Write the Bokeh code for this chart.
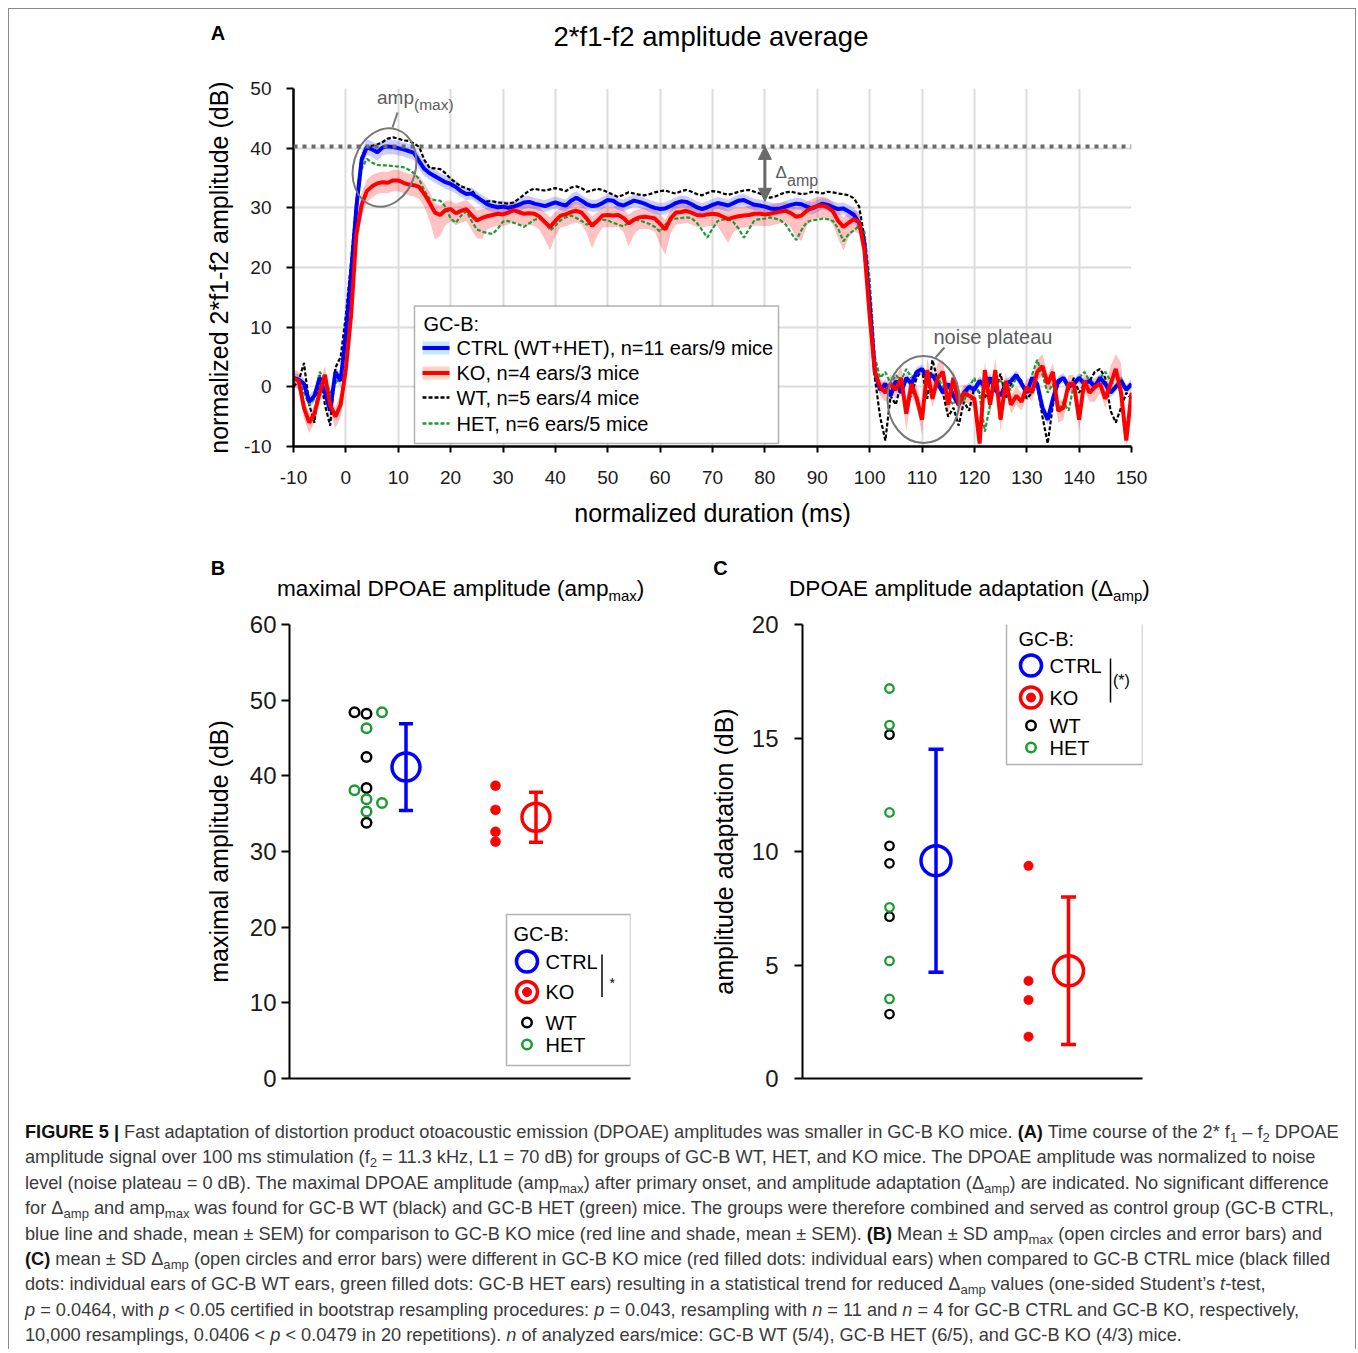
import numpy as np
from bokeh.plotting import figure
from bokeh.models import (Range1d, Label, Arrow, NormalHead, Whisker, TeeHead,
                          ColumnDataSource, FixedTicker, Div, Span, BoxAnnotation)
from bokeh.layouts import column, row
from bokeh.embed import file_html
from bokeh.resources import INLINE

FONT = "Liberation Sans"

# ---------------- Panel A data (normalized 2*f1-f2 amplitude, dB) ----------------
t_ms = np.arange(-10, 151)  # 1 ms sampling grid

ctrl_mean = [
    1.5, 1.2, 0.5, -2.5, -1.5, 1.5, -1.0, -4.0, 2.5, 1.0,
    9.0, 19.0, 30.0, 38.0, 40.2, 39.8, 39.3, 40.1, 40.3, 40.2,
    40.0, 39.8, 39.5, 39.2, 37.8, 36.5, 35.8, 35.3, 34.8, 34.3,
    34.0, 33.5, 32.8, 32.3, 32.4, 31.8, 31.2, 30.6, 30.3, 30.1,
    30.2, 30.0, 30.2, 30.5, 30.9, 31.0, 30.7, 30.5, 30.3, 30.6,
    30.9, 30.6, 30.4, 31.2, 31.7, 31.2, 30.6, 30.3, 30.4, 30.8,
    31.3, 31.2, 30.6, 30.4, 30.8, 31.2, 31.0, 30.7, 30.3, 30.0,
    29.8, 29.9, 30.3, 30.8, 31.1, 31.0, 30.6, 30.1, 29.8, 30.1,
    30.5, 30.8, 30.6, 30.4, 30.8, 31.2, 31.3, 30.9, 30.5, 30.4,
    30.2, 29.9, 29.8, 29.9, 30.2, 30.5, 30.7, 30.6, 30.2, 29.9,
    30.3, 30.7, 30.5, 30.1, 29.8, 29.9, 29.4, 28.8, 27.5, 24.0,
    14.0, 2.5, -0.5, 0.5, -1.5, 1.0, -1.0, 1.5, 0.5, 2.5,
    3.0, 1.5, 2.0, 0.5, -1.0, 0.5, -1.5, -3.0, -1.0, 0.0,
    -0.5, 1.0, 0.0, 1.5, -0.5, -1.5, 0.5, 1.0, 2.0, 0.5,
    -1.0, 1.5, 0.5, -3.5, -5.5, -2.0, 1.0, 1.5, 0.0, 0.5,
    1.5, 0.5, 1.0, 0.0, 1.5, 0.5, -1.0, 0.0, 1.0, -0.5, 0.5,
]
ctrl_sem = [
    0.8, 0.9, 1.0, 1.2, 1.0, 0.9, 1.1, 1.3, 1.0, 1.2,
    2.0, 2.0, 1.8, 1.5, 1.3, 1.3, 1.4, 1.3, 1.3, 1.2,
    1.2, 1.2, 1.2, 1.2, 1.3, 1.2, 1.1, 1.1, 1.1, 1.1,
    1.1, 1.1, 1.0, 1.0, 1.0, 1.0, 1.0, 1.0, 1.0, 1.0,
    1.0, 1.0, 1.0, 1.1, 1.1, 1.0, 1.0, 1.0, 1.0, 1.0,
    1.0, 1.0, 1.0, 1.1, 1.1, 1.0, 1.0, 1.0, 1.0, 1.0,
    1.0, 1.0, 1.0, 1.0, 1.0, 1.0, 1.0, 1.0, 1.0, 1.0,
    1.0, 1.0, 1.0, 1.0, 1.0, 1.0, 1.0, 1.0, 1.0, 1.0,
    1.0, 1.0, 1.0, 1.0, 1.0, 1.0, 1.0, 1.0, 1.0, 1.0,
    1.0, 1.0, 1.0, 1.0, 1.0, 1.0, 1.0, 1.0, 1.0, 1.0,
    1.0, 1.0, 1.0, 1.0, 1.0, 1.0, 1.1, 1.2, 1.4, 1.8,
    2.0, 1.2, 0.8, 0.8, 0.8, 0.8, 0.8, 0.8, 0.8, 0.8,
    0.8, 0.8, 0.8, 0.8, 0.8, 0.8, 0.8, 0.8, 0.8, 0.8,
    0.8, 0.8, 0.8, 0.8, 0.8, 0.8, 0.8, 0.8, 0.8, 0.8,
    0.8, 0.8, 0.8, 0.9, 1.0, 0.8, 0.8, 0.8, 0.8, 0.8,
    0.8, 0.8, 0.8, 0.8, 0.8, 0.8, 0.8, 0.8, 0.8, 0.8, 0.8,
]
ko_mean = [
    1.5, 1.0, -3.5, -6.0, -4.5, -1.0, 2.0, -3.0, -5.0, -3.0,
    3.0, 12.0, 25.5, 30.5, 32.8, 33.6, 34.1, 34.3, 34.2, 34.6,
    34.6, 34.2, 33.9, 33.8, 33.5, 32.3, 30.8, 29.2, 28.8, 29.6,
    29.8, 29.1, 29.5, 29.8, 28.8, 27.9, 28.3, 28.6, 28.8, 29.0,
    28.9, 29.2, 29.6, 29.3, 29.0, 29.1, 29.0, 28.5, 27.6, 26.8,
    27.8, 28.7, 28.9, 29.3, 29.5, 29.2, 28.2, 27.0, 27.8, 28.7,
    28.8, 28.7, 28.8, 28.3, 27.4, 28.0, 28.4, 28.5, 28.4, 28.2,
    27.3, 26.4, 28.2, 29.2, 29.3, 29.5, 29.2, 28.8, 28.7, 28.9,
    29.0, 28.9, 28.5, 28.1, 28.4, 28.6, 28.7, 28.8, 29.0, 29.0,
    28.9, 29.0, 29.2, 29.4, 29.5, 29.1, 28.5, 28.7, 29.5, 30.0,
    30.3, 30.4, 30.1, 29.4, 27.8, 26.8, 27.5, 28.1, 27.6, 23.0,
    12.0, 2.5, 0.0, -1.0, 0.5, -0.5, 1.5, -4.5, 0.5, -2.0,
    -5.5, 2.8, -2.0, 1.5, 2.5, -3.0, 1.5, -3.0, -1.0, -1.5,
    -2.0, -9.5, 2.8, -3.0, 2.8, -5.5, 1.0, -3.0, -1.5, -2.5,
    0.0, -1.0, 2.5, 3.5, 0.5, 2.5, -4.0, -3.5, 0.5, 0.5,
    -5.5, 1.0, -1.0, 0.0, 0.5, -2.0, 0.5, 3.0, -1.0, -9.0, -1.0,
]
ko_sem_up = [
    1.5, 1.5, 1.5, 1.5, 1.5, 1.5, 1.5, 1.5, 1.5, 2.0,
    2.5, 2.5, 2.2, 2.0, 1.9, 1.9, 1.8, 1.8, 1.8, 1.8,
    1.8, 1.8, 1.8, 1.8, 1.8, 1.8, 1.8, 1.6, 1.6, 1.6,
    1.4, 1.6, 1.5, 1.5, 1.7, 1.6, 1.5, 1.4, 1.5, 1.6,
    1.5, 1.5, 1.4, 1.5, 1.6, 1.5, 1.5, 1.5, 1.6, 1.6,
    1.5, 1.4, 1.5, 1.5, 1.5, 1.6, 1.5, 1.5, 1.5, 1.4,
    1.5, 1.5, 1.6, 1.5, 1.5, 1.5, 1.4, 1.5, 1.5, 1.5,
    1.6, 1.6, 1.5, 1.4, 1.5, 1.5, 1.5, 1.5, 1.5, 1.5,
    1.5, 1.5, 1.6, 1.6, 1.5, 1.5, 1.5, 1.5, 1.4, 1.5,
    1.5, 1.5, 1.5, 1.4, 1.5, 1.5, 1.5, 1.6, 1.5, 1.5,
    1.5, 1.5, 1.5, 1.5, 1.6, 1.6, 1.6, 1.5, 1.8, 2.0,
    2.0, 2.0, 1.5, 1.5, 1.5, 2.0, 2.0, 2.5, 2.0, 2.0,
    2.5, 2.0, 3.0, 2.5, 2.0, 2.0, 1.5, 1.5, 1.5, 1.5,
    1.5, 1.5, 1.5, 1.5, 2.0, 2.0, 1.5, 1.5, 1.5, 1.5,
    1.5, 2.0, 2.0, 2.0, 1.5, 1.5, 1.5, 1.5, 1.5, 1.5,
    1.5, 2.0, 2.0, 1.5, 1.5, 2.0, 3.0, 2.5, 5.0, 2.0, 2.0,
]
ko_sem_down = [
    1.5, 1.5, 1.8, 1.8, 1.5, 1.5, 1.5, 1.5, 2.0, 2.0,
    2.5, 2.5, 2.2, 2.0, 1.9, 1.9, 1.8, 1.8, 1.8, 1.8,
    1.8, 1.8, 1.8, 1.9, 2.0, 2.2, 3.0, 4.5, 3.5, 2.5,
    2.0, 2.0, 2.0, 2.0, 2.5, 3.0, 3.5, 2.2, 2.0, 2.0,
    2.0, 2.0, 2.0, 2.0, 2.0, 2.0, 2.0, 2.2, 3.0, 3.9,
    2.5, 2.0, 2.0, 2.0, 2.0, 2.0, 2.5, 3.8, 2.5, 2.0,
    2.0, 2.0, 2.0, 2.3, 3.9, 2.5, 2.0, 2.0, 2.0, 2.2,
    3.5, 4.3, 2.5, 2.0, 2.0, 2.0, 2.0, 2.0, 2.0, 2.0,
    2.0, 2.0, 3.0, 4.0, 2.5, 2.0, 2.0, 2.0, 2.0, 2.0,
    2.0, 2.0, 2.0, 2.0, 2.0, 2.5, 3.5, 4.2, 2.5, 2.0,
    2.0, 2.0, 2.0, 2.2, 3.0, 3.9, 2.5, 2.0, 2.0, 2.0,
    2.0, 1.5, 1.5, 1.5, 1.5, 1.5, 1.8, 3.0, 2.0, 1.5,
    2.5, 1.5, 1.5, 1.5, 1.5, 2.0, 1.5, 2.0, 1.5, 1.5,
    1.5, 1.0, 1.5, 2.0, 1.5, 2.0, 1.5, 1.5, 1.5, 1.5,
    1.5, 1.5, 1.5, 1.5, 1.5, 1.5, 2.0, 2.0, 1.5, 1.5,
    2.0, 1.5, 1.5, 2.5, 1.5, 1.5, 1.5, 1.5, 1.5, 1.0, 1.5,
]
wt_mean = [
    0.0, 1.0, 4.0, -3.0, -6.0, 2.0, -3.0, -6.5, 3.2, 5.0,
    12.0, 21.0, 31.0, 38.5, 40.3, 40.4, 40.6, 41.0, 41.6, 41.8,
    41.6, 41.3, 41.2, 40.8, 40.2, 38.0, 36.7, 36.6, 36.5, 35.8,
    34.9, 34.2, 33.6, 33.3, 32.9, 32.0, 31.2, 31.1, 31.1, 30.9,
    30.8, 30.7, 30.9, 31.5, 32.2, 32.9, 33.2, 33.0, 32.9, 33.1,
    33.3, 33.1, 32.8, 33.4, 33.6, 33.3, 32.7, 32.9, 33.2, 33.0,
    32.6, 32.2, 31.8, 32.2, 32.6, 32.4, 32.2, 32.1, 32.3, 32.6,
    32.8, 32.9, 32.6, 32.4, 32.8, 33.0, 32.7, 32.3, 32.1, 32.5,
    32.8, 32.7, 32.4, 32.2, 32.4, 32.7, 32.9, 33.0, 32.7, 32.4,
    32.0, 31.7, 31.9, 32.3, 32.6, 32.7, 32.5, 32.3, 32.4, 32.7,
    32.6, 32.4, 32.7, 32.6, 32.4, 32.3, 32.1, 31.6, 30.2, 25.0,
    14.0, 1.5, -5.0, -9.0, -1.5, -3.0, 0.5, -4.0, -1.0, 1.5,
    2.8, -2.0, 4.5, 1.0, -1.0, -5.0, -3.5, -6.5, -2.5, -4.0,
    0.0, -1.0, -2.0, 1.0, -0.5, 2.2, -2.0, 0.5, 2.0, 1.0,
    -2.0, -1.0, 0.5, -5.0, -9.5, -3.0, 0.5, 1.5, -0.5, 1.5,
    -1.0, 0.5, 1.0, 2.5, 3.0, 1.5, -4.0, -6.0, -3.5, -1.0, -2.0,
]
het_mean = [
    1.5, 1.0, -1.0, -3.0, -2.0, 2.5, 1.5, -1.0, 0.5, 2.0,
    8.0, 20.0, 30.0, 36.5, 38.2, 37.6, 37.2, 37.1, 37.1, 37.0,
    36.9, 36.8, 36.4, 35.8, 34.8, 32.8, 31.5, 31.3, 31.2, 30.2,
    28.2, 27.5, 28.7, 29.4, 27.8, 26.4, 26.0, 25.8, 25.6, 26.5,
    27.7, 27.8, 27.5, 27.2, 26.8, 27.4, 28.0, 28.2, 27.8, 26.2,
    27.0, 27.9, 28.4, 28.7, 28.3, 27.8, 27.2, 27.4, 27.8, 28.0,
    27.9, 27.5, 27.2, 26.9, 27.5, 28.0, 27.9, 27.6, 27.3, 26.8,
    26.0, 27.2, 28.0, 28.2, 28.3, 28.4, 28.3, 27.5, 26.3, 25.0,
    26.5, 27.8, 28.0, 28.1, 27.6, 26.5, 25.0, 26.5, 27.9, 28.1,
    28.2, 28.4, 28.2, 27.9, 27.2, 25.8, 24.6, 26.3, 27.6, 27.9,
    28.0, 28.2, 28.1, 27.8, 26.5, 24.4, 25.6, 26.2, 27.0, 26.0,
    18.0, 5.0, 1.5, 2.5, 0.5, 2.0, 1.0, 3.0, 1.5, 2.5,
    3.0, 0.5, -1.0, 1.5, 0.0, -2.0, -3.0, -1.0, -2.5, 0.0,
    1.5, -1.5, -7.5, -3.0, 0.5, 1.0, 0.0, -0.5, 1.5, 0.5,
    -1.0, 2.0, 4.5, 2.0, -1.0, 0.5, -4.0, -2.5, -4.0, 0.5,
    1.5, 2.5, 1.0, -0.5, 1.5, 2.5, 1.0, 0.0, 1.5, -0.5, 0.0,
]
amp_max_level = 40.3          # dotted line: amp(max) of CTRL
delta_amp_ms = 80             # where the delta_amp arrow is drawn
delta_amp_low = 31.1          # plateau level at the arrow

legend_a = ["CTRL (WT+HET), n=11 ears/9 mice", "KO, n=4 ears/3 mice",
            "WT, n=5 ears/4 mice", "HET, n=6 ears/5 mice"]
legend_bc = ["CTRL", "KO", "WT", "HET"]

# ---------------- Panel B data (amp max, dB) ----------------
b_wt = [48.4, 48.2, 42.5, 38.4, 33.8]
b_het = [48.4, 46.3, 38.1, 36.9, 35.3, 36.4]
b_ko = [38.7, 35.5, 32.6, 31.3]
# ---------------- Panel C data (delta amp, dB) ----------------
c_wt = [15.15, 10.25, 9.48, 7.13, 2.84]
c_het = [17.18, 15.57, 11.72, 7.54, 5.18, 3.51]
c_ko = [9.37, 4.30, 3.46, 1.84]

BLUE, RED, GREEN, GRAY = "#0000ff", "#ff0000", "#1e9a35", "#5c5c5c"

# ---------------- geometry (page px) ----------------
X0, Y0 = 9, 9                  # inner top-left corner of the bordered box
INNER_W = 1346
AL, AR, AT, AB = 293, 1131, 88, 446
A_TOP, A_BOT = 69, 540
BL, BR, BT, BB = 289, 630, 624, 1078
CL, CR, CT, CB = 802, 1142, 624, 1078
BC_TOP, CAP_TOP = 605, 1118


def A_x(px): return -10 + (px - AL) * 160.0 / (AR - AL)
def A_y(py): return -10 + (AB - py) * 60.0 / (AB - AT)
def B_x(px): return px - BL
def B_y(py): return (BB - py) * 60.0 / (BB - BT)
def C_x(px): return px - CL
def C_y(py): return (CB - py) * 20.0 / (CB - CT)


def lab(p, x, y, text, size, color="black", align="left", baseline="middle"):
    p.add_layout(Label(x=x, y=y, text=text, text_font=FONT,
                       text_font_size=f"{size}px", text_color=color,
                       text_align=align, text_baseline=baseline))


def style_axis(ax, size, standoff, tick_out, label=None, label_standoff=10):
    ax.axis_line_color = "black"
    ax.axis_line_width = 2
    ax.major_tick_line_color = "black"
    ax.major_tick_line_width = 2
    ax.major_tick_out = tick_out
    ax.major_tick_in = 0
    ax.minor_tick_line_color = None
    ax.major_label_text_font = FONT
    ax.major_label_text_font_size = f"{size}px"
    ax.major_label_text_color = "#1a1a1a"
    ax.major_label_standoff = standoff
    if label:
        ax.axis_label = label
        ax.axis_label_text_font = FONT
        ax.axis_label_text_font_size = "25px"
        ax.axis_label_text_font_style = "normal"
        ax.axis_label_text_color = "black"
        ax.axis_label_standoff = label_standoff


# ======================= headers (panel letters and titles) =======================
def abs_span(left, top, w, lh, size, html, bold=False, align="left"):
    return (f'<div style="position:absolute;left:{left}px;top:{top}px;width:{w}px;'
            f'line-height:{lh}px;font-size:{size}px;text-align:{align};white-space:nowrap;'
            f'font-weight:{"bold" if bold else "normal"};color:#000">{html}</div>')


def header(height, items):
    return Div(text=(f"<div style=\"position:relative;width:{INNER_W}px;height:{height}px;"
                     f"font-family:'Liberation Sans',Arial,sans-serif\">" + "".join(items) + "</div>"),
               width=INNER_W, height=height, margin=0)


hA = header(A_TOP - Y0, [
    abs_span(218 - X0 - 20, 33 - Y0 - 12, 40, 24, 20, "A", bold=True, align="center"),
    abs_span(711 - X0 - 300, 37 - Y0 - 16, 600, 32, 27.5, "2*f1-f2 amplitude average", align="center"),
])

SUBT = '<span style="font-size:15px;position:relative;top:5px">'
hBC = header(BC_TOP - A_BOT, [
    abs_span(218 - X0 - 20, 568 - A_BOT - 12, 40, 24, 20, "B", bold=True, align="center"),
    abs_span(720.5 - X0 - 20, 568 - A_BOT - 12, 40, 24, 20, "C", bold=True, align="center"),
    abs_span(277 - X0, 597 - A_BOT - 21, 420, 26, 22.6,
             "maximal DPOAE amplitude (amp" + SUBT + "max</span>)"),
    abs_span(789 - X0, 597 - A_BOT - 21, 420, 26, 22.6,
             "DPOAE amplitude adaptation (Δ" + SUBT + "amp</span>)"),
])

# ======================= Panel A =======================
pA = figure(frame_width=AR - AL, frame_height=AB - AT,
            x_range=Range1d(-10, 150), y_range=Range1d(-10, 50),
            min_border_left=AL - X0, min_border_right=X0 + INNER_W - AR,
            min_border_top=AT - A_TOP, min_border_bottom=A_BOT - AB,
            output_backend="svg", toolbar_location=None,
            outline_line_color=None, background_fill_color="white",
            border_fill_color="white")
xt = list(range(-10, 151, 10))
yt = list(range(-10, 51, 10))
pA.xaxis.ticker = FixedTicker(ticks=xt)
pA.yaxis.ticker = FixedTicker(ticks=yt)
pA.xgrid.ticker = FixedTicker(ticks=xt)
pA.ygrid.ticker = FixedTicker(ticks=yt)
for g in (pA.xgrid, pA.ygrid):
    g.grid_line_color = "#dcdcdc"
    g.grid_line_width = 2
style_axis(pA.yaxis[0], 19, 15, 7, "normalized 2*f1-f2 amplitude (dB)", 8)
style_axis(pA.xaxis[0], 19, 18, 6, "normalized duration (ms)", 12)
pA.xaxis.axis_line_width = 2.5
pA.yaxis.axis_line_width = 2.5
pA.xaxis.major_label_overrides = {-10: "-10"}
pA.yaxis.major_label_overrides = {-10: "-10"}

# legend box (under data)
pA.add_layout(BoxAnnotation(left=A_x(414), right=A_x(778), top=A_y(305.5),
                            bottom=A_y(443), fill_color="white", fill_alpha=1,
                            line_color="black", line_width=1.5, level="underlay"))

t = np.asarray(t_ms, dtype=float)
cm, cs = np.asarray(ctrl_mean), np.asarray(ctrl_sem)
km = np.asarray(ko_mean)
pA.varea(x=t, y1=km - np.asarray(ko_sem_down), y2=km + np.asarray(ko_sem_up),
         fill_color=RED, fill_alpha=0.24)
pA.varea(x=t, y1=cm - cs, y2=cm + cs, fill_color="#3848ff", fill_alpha=0.27)
pA.line(t, wt_mean, line_color="black", line_width=2.2, line_dash="4 2")
pA.line(t, het_mean, line_color=GREEN, line_width=2.2, line_dash="4 2")
pA.line(t, ctrl_mean, line_color=BLUE, line_width=4)
pA.line(t, ko_mean, line_color=RED, line_width=4)

pA.add_layout(Span(location=amp_max_level, dimension="width", line_color="#6a6a6a",
                   line_width=4, line_dash="4 5"))
pA.add_layout(Arrow(x_start=delta_amp_ms, y_start=delta_amp_low,
                    x_end=delta_amp_ms, y_end=amp_max_level,
                    line_color="#6a6a6a", line_width=3,
                    start=NormalHead(size=13, fill_color="#6a6a6a", line_color="#6a6a6a"),
                    end=NormalHead(size=13, fill_color="#6a6a6a", line_color="#6a6a6a")))
lab(pA, A_x(775), A_y(172), "Δ", 17, GRAY)
lab(pA, A_x(786.5), A_y(179.5), "amp", 16, GRAY)

# annotation ellipses
pA.ellipse(x=[A_x(384)], y=[A_y(167)], width=62, height=80, width_units="screen",
           height_units="screen", angle=-0.3, fill_color=None,
           line_color="#777777", line_width=2)
pA.segment(x0=[A_x(392)], y0=[A_y(127)], x1=[A_x(397)], y1=[A_y(112)],
           line_color="#777777", line_width=2)
lab(pA, A_x(376.5), A_y(96.5), "amp", 19, GRAY)
lab(pA, A_x(413.5), A_y(103.5), "(max)", 15.5, GRAY)

pA.ellipse(x=[A_x(923)], y=[A_y(399)], width=72, height=87, width_units="screen",
           height_units="screen", angle=0.0, fill_color=None,
           line_color="#777777", line_width=2)
pA.segment(x0=[A_x(935)], y0=[A_y(357)], x1=[A_x(944)], y1=[A_y(347)],
           line_color="#777777", line_width=2)
lab(pA, A_x(933), A_y(336.5), "noise plateau", 20, GRAY)

# legend content
lab(pA, A_x(423), A_y(323.5), "GC-B:", 20)
pA.quad(left=[A_x(422)], right=[A_x(449)], top=[A_y(341)], bottom=[A_y(354)],
        fill_color="#c4e8f8", line_color=None)
pA.quad(left=[A_x(422)], right=[A_x(449)], top=[A_y(366)], bottom=[A_y(379)],
        fill_color="#fbd5c0", line_color=None)
leg_rows = [347.5, 372.5, 397, 423]
leg_styles = [dict(line_color=BLUE, line_width=4), dict(line_color=RED, line_width=4),
              dict(line_color="black", line_width=2.5, line_dash="4 2"),
              dict(line_color=GREEN, line_width=2.5, line_dash="4 2")]
for ry, st, txt in zip(leg_rows, leg_styles, legend_a):
    pA.segment(x0=[A_x(422)], y0=[A_y(ry)], x1=[A_x(449)], y1=[A_y(ry)], **st)
    lab(pA, A_x(456), A_y(ry), txt, 20)


# ======================= Panels B and C =======================
def dot_panel(L, R, T, Bt, yr, yticks, mb_left, mb_right, standoff, ylabel, lstand):
    p = figure(frame_width=R - L, frame_height=Bt - T,
               x_range=Range1d(0, R - L), y_range=Range1d(0, yr),
               min_border_left=mb_left, min_border_right=mb_right,
               min_border_top=T - BC_TOP, min_border_bottom=CAP_TOP - Bt,
               output_backend="svg", toolbar_location=None,
               outline_line_color=None, background_fill_color="white",
               border_fill_color="white")
    p.grid.visible = False
    p.yaxis.ticker = FixedTicker(ticks=yticks)
    p.xaxis.ticker = FixedTicker(ticks=[])
    style_axis(p.yaxis[0], 24, standoff, 8, ylabel, lstand)
    style_axis(p.xaxis[0], 24, standoff, 8)
    return p


def draw_groups(p, xmap, wt_x, het_x, ctrl_mx, ko_x, ko_mx,
                wt, het, ko, ring, ring_lw, dot, mean_size, cap):
    p.scatter([xmap(v) for v in wt_x], wt, marker="circle", size=ring,
              fill_color=None, line_color="black", line_width=ring_lw)
    p.scatter([xmap(v) for v in het_x], het, marker="circle", size=ring,
              fill_color=None, line_color=GREEN, line_width=ring_lw)
    p.scatter([xmap(ko_x)] * len(ko), ko, marker="circle", size=dot,
              fill_color=RED, line_color=RED, line_width=0.5)
    ctrl_all = np.array(wt + het)
    ko_all = np.array(ko)
    for mx, vals, col in ((ctrl_mx, ctrl_all, BLUE), (ko_mx, ko_all, RED)):
        m, sd = vals.mean(), vals.std(ddof=1)
        src = ColumnDataSource(dict(x=[xmap(mx)], up=[m + sd], lo=[m - sd], m=[m]))
        p.add_layout(Whisker(source=src, base="x", upper="up", lower="lo",
                             dimension="height", line_color=col, line_width=3.5,
                             upper_head=TeeHead(size=cap, line_color=col, line_width=3.5),
                             lower_head=TeeHead(size=cap, line_color=col, line_width=3.5)))
        p.scatter(x="x", y="m", source=src, marker="circle", size=mean_size,
                  fill_color=None, line_color=col, line_width=3.5)


def draw_legend(p, xmap, ymap, box, head, mx, tx, ys, bracket, star, star_size):
    l, t_, r, b = box
    p.add_layout(BoxAnnotation(left=xmap(l), right=xmap(r), top=ymap(t_), bottom=ymap(b),
                               fill_color="white", fill_alpha=1, line_color="black",
                               line_width=1.5, level="underlay"))
    lab(p, xmap(head[0]), ymap(head[1]), "GC-B:", 20)
    p.scatter([xmap(mx)], [ymap(ys[0])], marker="circle", size=21, fill_color=None,
              line_color=BLUE, line_width=3.5)
    p.scatter([xmap(mx)], [ymap(ys[1])], marker="circle", size=21, fill_color=None,
              line_color=RED, line_width=3.5)
    p.scatter([xmap(mx)], [ymap(ys[1])], marker="circle", size=9, fill_color=RED,
              line_color=RED)
    p.scatter([xmap(mx)], [ymap(ys[2])], marker="circle", size=9.5, fill_color=None,
              line_color="black", line_width=2.5)
    p.scatter([xmap(mx)], [ymap(ys[3])], marker="circle", size=9.5, fill_color=None,
              line_color=GREEN, line_width=2.5)
    for yy, txt in zip(ys, legend_bc):
        lab(p, xmap(tx), ymap(yy), txt, 20)
    bx, by0, by1 = bracket
    p.segment(x0=[xmap(bx)], y0=[ymap(by0)], x1=[xmap(bx)], y1=[ymap(by1)],
              line_color="black", line_width=1.5)
    lab(p, xmap(star[0]), ymap(star[1]), star[2], star_size)


pB = dot_panel(BL, BR, BT, BB, 60, list(range(0, 61, 10)), BL - X0, 700 - BR, 5,
               "maximal amplitude (dB)", 14)
draw_groups(pB, B_x, [354, 366, 366, 366, 366], [381.5, 366, 354, 366, 366, 381.5],
            405.5, 495, 535.5, b_wt, b_het, b_ko, 9.5, 2.5, 10, 28, 14)
draw_legend(pB, B_x, B_y, (506, 914, 630, 1065), (513, 933.5), 526.5, 545,
            [961, 991.5, 1022, 1044], (601.5, 954, 996.5), (609, 982, "*"), 14)

pC = dot_panel(CL, CR, CT, CB, 20, list(range(0, 21, 5)), CL - 700, X0 + INNER_W - CR, 16,
               "amplitude adaptation (dB)", 11)
draw_groups(pC, C_x, [889] * 5, [889] * 6, 935.5, 1028, 1068,
            c_wt, c_het, c_ko, 8.5, 2.3, 9.5, 30, 15)
draw_legend(pC, C_x, C_y, (1006, 622, 1142, 764), (1018, 638.5), 1030.5, 1049,
            [665, 697, 725, 747], (1110, 658, 702), (1112.5, 680, "(*)"), 16)

# ======================= Caption =======================
S = '<sub style="font-size:0.72em;line-height:0;vertical-align:-0.3em">'
B0 = "<b style='color:#111'>"
caption_lines = [
    B0 + "FIGURE 5 |</b> Fast adaptation of distortion product otoacoustic emission (DPOAE) amplitudes was smaller in GC-B KO mice. " + B0 + "(A)</b> Time course of the 2* f" + S + "1</sub> – f" + S + "2</sub> DPOAE",
    "amplitude signal over 100 ms stimulation (f" + S + "2</sub> = 11.3 kHz, L1 = 70 dB) for groups of GC-B WT, HET, and KO mice. The DPOAE amplitude was normalized to noise",
    "level (noise plateau = 0 dB). The maximal DPOAE amplitude (amp" + S + "max</sub>) after primary onset, and amplitude adaptation (Δ" + S + "amp</sub>) are indicated. No significant difference",
    "for Δ" + S + "amp</sub> and amp" + S + "max</sub> was found for GC-B WT (black) and GC-B HET (green) mice. The groups were therefore combined and served as control group (GC-B CTRL,",
    "blue line and shade, mean ± SEM) for comparison to GC-B KO mice (red line and shade, mean ± SEM). " + B0 + "(B)</b> Mean ± SD amp" + S + "max</sub> (open circles and error bars) and",
    B0 + "(C)</b> mean ± SD Δ" + S + "amp</sub> (open circles and error bars) were different in GC-B KO mice (red filled dots: individual ears) when compared to GC-B CTRL mice (black filled",
    "dots: individual ears of GC-B WT ears, green filled dots: GC-B HET ears) resulting in a statistical trend for reduced Δ" + S + "amp</sub> values (one-sided Student’s <i>t</i>-test,",
    "<i>p</i> = 0.0464, with <i>p</i> &lt; 0.05 certified in bootstrap resampling procedures: <i>p</i> = 0.043, resampling with <i>n</i> = 11 and <i>n</i> = 4 for GC-B CTRL and GC-B KO, respectively,",
    "10,000 resamplings, 0.0406 &lt; <i>p</i> &lt; 0.0479 in 20 repetitions). <i>n</i> of analyzed ears/mice: GC-B WT (5/4), GC-B HET (6/5), and GC-B KO (4/3) mice.",
]
cap_html = ("<div style=\"font-family:'Liberation Sans',Arial,sans-serif;font-size:18.2px;"
            "color:#3a3a3a;padding:2px 0 0 16px;\">" +
            "".join(f'<div style="white-space:nowrap;height:25.4px;line-height:25.4px">{ln}</div>'
                    for ln in caption_lines) + "</div>")
cap = Div(text=cap_html, width=INNER_W, height=231, margin=0)

layout = column(hA, pA, hBC, row(pB, pC), cap,
                styles={"margin-left": "8px", "margin-top": "8px",
                        "border-top": "1px solid #8a8a8a", "border-left": "1px solid #8a8a8a",
                        "border-right": "1px solid #8a8a8a", "background": "white"})

open("out.html", "w").write(file_html(layout, INLINE))
